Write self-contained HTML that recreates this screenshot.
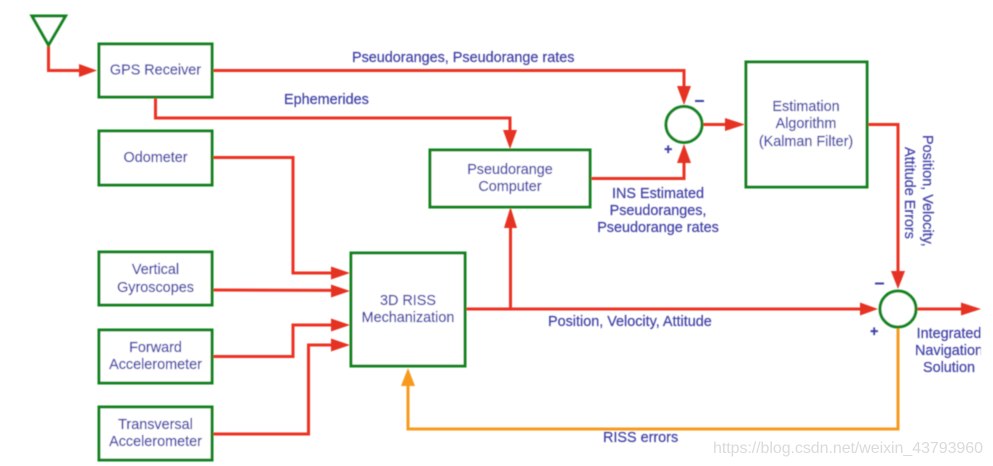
<!DOCTYPE html>
<html>
<head>
<meta charset="utf-8">
<style>
html,body{margin:0;padding:0;background:#fff;width:993px;height:466px;overflow:hidden}
svg{display:block}
.g{filter:url(#b)}
text{font-family:"Liberation Sans",sans-serif;font-size:14.4px;fill:#4040a6;stroke:#4040a6;stroke-width:0.2}
.box{fill:#fff;stroke:#11841f;stroke-width:3}
.r{fill:none;stroke:#ed3024;stroke-width:3}
.o{fill:none;stroke:#f79a1e;stroke-width:3}
.ra{fill:#e63223}
.oa{fill:#f7991c}
.m{text-anchor:middle}
</style>
</head>
<body>
<svg width="993" height="466" viewBox="0 0 993 466" xmlns="http://www.w3.org/2000/svg">
<defs>
<filter id="b" x="-2%" y="-2%" width="104%" height="104%"><feGaussianBlur stdDeviation="0.5"/></filter>
</defs>
<g class="g">
<!-- connectors -->
<path class="r" d="M48.500 45V70.500H82"/>
<path class="r" d="M212 70.500H684V88"/>
<path class="r" d="M155.500 97V118H510V132"/>
<path class="r" d="M590 178.500H684V160"/>
<path class="r" d="M700 124.500H728"/>
<path class="r" d="M867 124.500H898V273"/>
<path class="r" d="M212 157.500H293V273H333"/>
<path class="r" d="M212 290H333" transform="rotate(0.2 212 290)"/>
<path class="r" d="M212 356.500H293V325H333"/>
<path class="r" d="M212 434H308.500V345H333"/>
<path class="r" d="M465 309H862"/>
<path class="r" d="M510.500 309V226"/>
<path class="r" d="M914 309H963"/>
<path class="o" d="M898 326V429H408V384"/>
<!-- arrowheads -->
<polygon class="ra" points="97,70.500 79,64 79,77"/>
<polygon class="ra" points="684,105 677,86 691,86"/>
<polygon class="ra" points="510,149 503,130 517,130"/>
<polygon class="ra" points="684,144 677,163 691,163"/>
<polygon class="ra" points="745,124.500 725,118 725,131"/>
<polygon class="ra" points="898,289 891,271 905,271"/>
<polygon class="ra" points="350,273 331,266.500 331,279.500"/>
<polygon class="ra" points="350,291 331,284.500 331,297.500"/>
<polygon class="ra" points="350,325 331,318.500 331,331.500"/>
<polygon class="ra" points="350,345 331,338.500 331,351.500"/>
<polygon class="ra" points="878,309 860,302.500 860,315.500"/>
<polygon class="ra" points="510.500,207 504,228 517,228"/>
<polygon class="ra" points="981,309 961,302.500 961,315.500"/>
<polygon class="oa" points="408,368 401,386 415,386"/>
<!-- antenna -->
<polygon points="32,16 65.500,16 48.500,45" fill="#fff" stroke="#11841f" stroke-width="3"/>
<!-- boxes -->
<rect class="box" x="99" y="44" width="113" height="53"/>
<rect class="box" x="99" y="131" width="113" height="54"/>
<rect class="box" x="99" y="252" width="113" height="53"/>
<rect class="box" x="99" y="330" width="113" height="53"/>
<rect class="box" x="99" y="407" width="113" height="53"/>
<rect class="box" x="351" y="253" width="114" height="113"/>
<rect class="box" x="430" y="150" width="160" height="57"/>
<rect class="box" x="746" y="62" width="121" height="125"/>
<circle class="box" cx="684" cy="124.500" r="18"/>
<circle class="box" cx="898" cy="309" r="18"/>
<!-- node labels -->
<text class="m" x="155.500" y="74.500">GPS Receiver</text>
<text class="m" x="155.500" y="162">Odometer</text>
<text class="m" x="155.500" y="274">Vertical</text>
<text class="m" x="155.500" y="292">Gyroscopes</text>
<text class="m" x="155.500" y="352">Forward</text>
<text class="m" x="155.500" y="369">Accelerometer</text>
<text class="m" x="155.500" y="429">Transversal</text>
<text class="m" x="155.500" y="446">Accelerometer</text>
<text class="m" x="408" y="305">3D RISS</text>
<text class="m" x="408" y="322">Mechanization</text>
<text class="m" x="510" y="174">Pseudorange</text>
<text class="m" x="510" y="191">Computer</text>
<text class="m" x="806" y="111">Estimation</text>
<text class="m" x="806" y="128">Algorithm</text>
<text class="m" x="806" y="146">(Kalman Filter)</text>
<!-- connector labels -->
<text x="352" y="62">Pseudoranges, Pseudorange rates</text>
<text x="284" y="104">Ephemerides</text>
<text class="m" x="658" y="198">INS Estimated</text>
<text class="m" x="658" y="215">Pseudoranges,</text>
<text class="m" x="658" y="232">Pseudorange rates</text>
<text x="548" y="326">Position, Velocity, Attitude</text>
<text x="603" y="442">RISS errors</text>
<text transform="translate(923 135) rotate(90)">Position, Velocity,</text>
<text transform="translate(905 147) rotate(90)">Attitude Errors</text>
<text class="m" x="949" y="338">Integrated</text>
<text class="m" x="949" y="355">Navigation</text>
<text class="m" x="949" y="372">Solution</text>
<!-- signs -->
<rect x="695" y="100" width="9" height="2" fill="#4040a6"/>
<text x="664" y="154" font-weight="bold">+</text>
<rect x="875" y="282.500" width="9" height="2" fill="#4040a6"/>
<text x="870" y="336" font-weight="bold">+</text>
<rect x="981" y="325" width="12" height="60" fill="#fff"/>
</g>
<text x="713" y="453" style="font-size:16px;fill:#dadada;stroke:none" textLength="270">https://blog.csdn.net/weixin_43793960</text>
</svg>
</body>
</html>
